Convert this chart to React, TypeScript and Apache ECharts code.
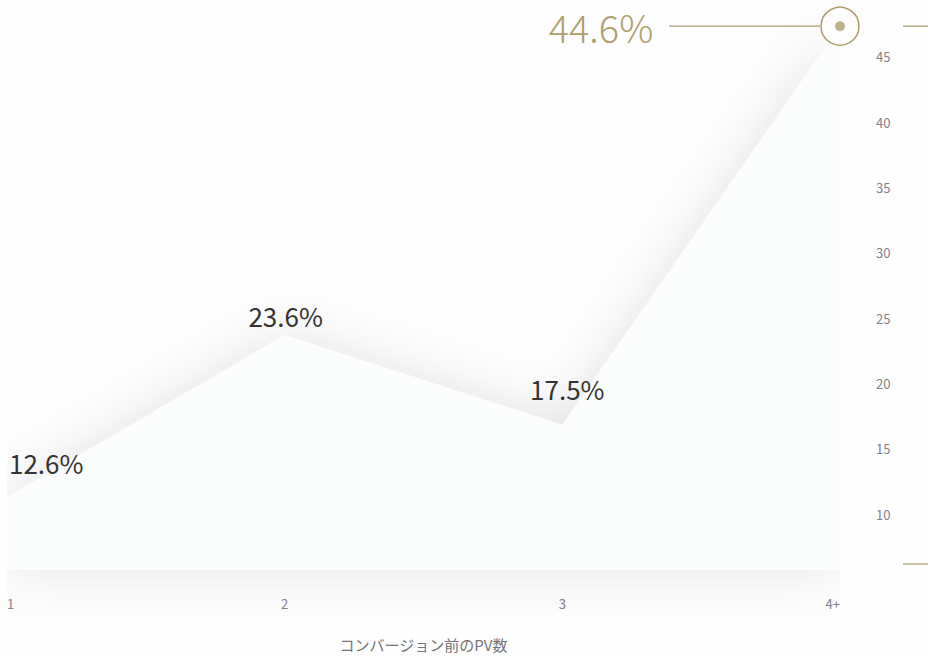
import React, { useEffect, useRef } from "react";
import * as echarts from "echarts";

const categories = ["1", "2", "3", "4+"];
const shares = [12.6, 23.6, 17.5, 44.6];
const shareLabels = ["12.6%", "23.6%", "17.5%", "44.6%"];
const scaleTicks = [10, 15, 20, 25, 30, 35, 40, 45];
const axisName = "コンバージョン前のPV数";

const GOLD = "#ae9f6c";
const FONT = "'Noto Sans CJK JP', 'Noto Sans', sans-serif";

export default function App() {
  const ref = useRef<HTMLDivElement>(null);
  useEffect(() => {
    if (!ref.current) return;
    const chart = echarts.init(ref.current, null, { renderer: "svg" });
    const last = shares.length - 1;
    const labelTweaks = [
      { distance: 21, align: "left", offset: [2, 0] },
      { distance: 6, align: "center", offset: [1, 0] },
      { distance: 23, align: "center", offset: [5, 0] },
    ];
    const data = shares.map((v, i) => {
      if (i === last) {
        return {
          value: v,
          symbol: "circle",
          symbolSize: 38,
          itemStyle: { color: "#fdfdfd", borderColor: GOLD, borderWidth: 1.5 },
          label: {
            show: true,
            position: "left",
            distance: 167,
            formatter: shareLabels[i],
            color: GOLD,
            fontSize: 38,
            lineHeight: 40,
            fontFamily: FONT,
            fontWeight: 300,
          },
        };
      }
      const t = labelTweaks[i];
      return {
        value: v,
        symbol: "circle",
        symbolSize: 2,
        itemStyle: { color: "rgba(0,0,0,0)", borderWidth: 0 },
        label: {
          show: true,
          position: "top",
          distance: t.distance,
          align: t.align,
          offset: t.offset,
          formatter: shareLabels[i],
          color: "#333333",
          fontSize: 26,
          fontFamily: FONT,
        },
      };
    });

    chart.setOption({
      animation: false,
      backgroundColor: "#fefefe",
      grid: [
        { left: 7, right: 88, top: 10, bottom: 82 },
        { left: 7, right: 88, top: 17.5, bottom: 77.3 },
      ],
      xAxis: [
        {
          type: "category",
          gridIndex: 0,
          data: categories,
          boundaryGap: false,
          axisLine: { show: false },
          axisTick: { show: false },
          splitLine: { show: false },
          axisLabel: {
            color: "#828288",
            fontSize: 13,
            fontFamily: FONT,
            margin: 27,
            alignMinLabel: "left",
            alignMaxLabel: "right",
          },
          name: axisName,
          nameLocation: "middle",
          nameGap: 67,
          nameTextStyle: { color: "#74747a", fontSize: 15, fontFamily: FONT },
        },
        {
          type: "category",
          gridIndex: 1,
          data: categories,
          show: false,
        },
      ],
      yAxis: [
        {
          type: "value",
          gridIndex: 0,
          min: 7.65,
          max: 45.7,
          show: false,
          splitLine: { show: false },
        },
        {
          type: "value",
          gridIndex: 1,
          position: "right",
          min: 5,
          max: 48,
          interval: 5,
          axisLine: { show: false },
          axisTick: { show: false },
          splitLine: { show: false },
          axisLabel: {
            color: "#828289",
            fontSize: 13,
            fontFamily: FONT,
            margin: 36,
            showMinLabel: false,
            showMaxLabel: false,
            formatter: (v: number) => (scaleTicks.includes(v) ? String(v) : ""),
          },
        },
      ],
      series: [
        {
          type: "line",
          xAxisIndex: 0,
          yAxisIndex: 0,
          data,
          showSymbol: true,
          showAllSymbol: true,
          clip: false,
          lineStyle: { width: 0 },
          areaStyle: {
            color: "#fbfcfc",
            opacity: 1,
            shadowBlur: 60,
            shadowColor: "rgba(0,0,0,0.11)",
          },
          z: 2,
        },
        {
          type: "scatter",
          xAxisIndex: 0,
          yAxisIndex: 0,
          data: [[last, shares[last]]],
          symbolSize: 10,
          itemStyle: { color: GOLD },
          z: 5,
        },
      ],
    });

    const p = chart.convertToPixel({ seriesIndex: 0 }, [last, shares[last]]) as number[];
    const bottomY = chart.convertToPixel({ yAxisIndex: 0 }, 7.65) as number;
    chart.setOption({
      graphic: [
        {
          type: "line",
          shape: { x1: p[0] - 171, y1: p[1], x2: p[0] - 20, y2: p[1] },
          style: { stroke: GOLD, lineWidth: 1.3 },
        },
        {
          type: "line",
          shape: { x1: p[0] + 63, y1: p[1], x2: 928, y2: p[1] },
          style: { stroke: GOLD, lineWidth: 1.3 },
        },
        {
          type: "line",
          shape: { x1: p[0] + 63, y1: bottomY - 6, x2: 928, y2: bottomY - 6 },
          style: { stroke: GOLD, lineWidth: 1.3 },
        },
      ],
    });

    return () => chart.dispose();
  }, []);
  return <div ref={ref} style={{ width: 928, height: 657, position: "absolute", left: 0, top: 0 }} />;
}
